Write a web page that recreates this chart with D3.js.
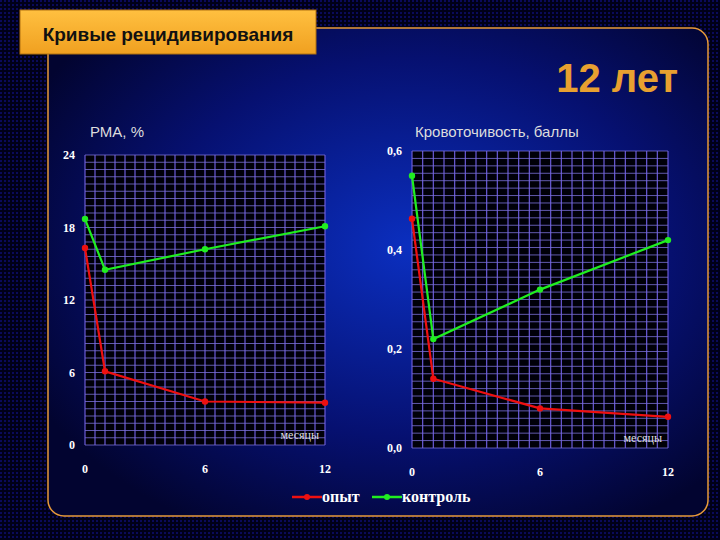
<!DOCTYPE html><html><head><meta charset="utf-8"><script src="https://cdn.jsdelivr.net/npm/d3@7"></script>
<style>body{margin:0;background:#000}</style></head><body><script>
const months=[0,1,6,12];
const rmaOpyt=[16.3,6.1,3.6,3.5];
const rmaKontrol=[18.7,14.5,16.2,18.1];
const bleedOpyt=[0.463,0.14,0.08,0.063];
const bleedKontrol=[0.55,0.22,0.32,0.42];
const rmaTicks=[0,6,12,18,24];
const bleedTicks=[0,0.2,0.4,0.6];
const xTicks=[0,6,12];
const W=720,H=540;
const svg=d3.select("body").append("svg").attr("width",W).attr("height",H);
const defs=svg.append("defs");
const pat=defs.append("pattern").attr("id","bgp").attr("width",4).attr("height",4).attr("patternUnits","userSpaceOnUse");
pat.append("rect").attr("width",4).attr("height",4).attr("fill","#000018");
pat.append("rect").attr("width",2).attr("height",2).attr("fill","#0a0a5a");
svg.append("rect").attr("width",W).attr("height",H).attr("fill","url(#bgp)");
const rg=defs.append("radialGradient").attr("id","pg").attr("cx","55%").attr("cy","45%").attr("r","65%");
rg.append("stop").attr("offset","0").attr("stop-color","#0b2fc0");
rg.append("stop").attr("offset","0.6").attr("stop-color","#061070");
rg.append("stop").attr("offset","1").attr("stop-color","#020430");
svg.append("rect").attr("x",48).attr("y",28).attr("width",660).attr("height",488).attr("rx",16).attr("fill","url(#pg)").attr("stroke","#e89a3a").attr("stroke-width",1.5);
const lg=defs.append("linearGradient").attr("id","tg").attr("x1",0).attr("y1",0).attr("x2",0).attr("y2",1);
lg.append("stop").attr("offset",0).attr("stop-color","#ffc040");
lg.append("stop").attr("offset",1).attr("stop-color","#f0a020");
svg.append("rect").attr("x",20).attr("y",10).attr("width",296).attr("height",44).attr("fill","url(#tg)").attr("stroke","#b07010");
svg.append("text").attr("x",168).attr("y",41).attr("text-anchor","middle").attr("font-family","Liberation Sans, Arial").attr("font-weight","bold").attr("font-size",19).attr("fill","#111").text("Кривые рецидивирования");
svg.append("text").attr("x",678).attr("y",92).attr("text-anchor","end").attr("font-family","Liberation Sans, Arial").attr("font-weight","bold").attr("font-size",40).attr("fill","#e8a030").text("12 лет");

function chart(x0,x1,y0,y1,ymax,ticks,fmt,opyt,kontrol,title,tx){
  const x=d3.scaleLinear().domain([0,12]).range([x0,x1]);
  const y=d3.scaleLinear().domain([0,ymax]).range([y0,y1]);
  const g=svg.append("g");
  g.append("rect").attr("x",x0).attr("y",y1).attr("width",x1-x0).attr("height",y0-y1).attr("fill","#000008");
  g.selectAll(".v").data(d3.range(0,12.01,0.5)).join("line").attr("x1",d=>x(d)).attr("x2",d=>x(d)).attr("y1",y1).attr("y2",y0).attr("stroke","#6a5ad8").attr("stroke-width",1.2);
  g.selectAll(".h").data(d3.range(0,41)).join("line").attr("x1",x0).attr("x2",x1).attr("y1",d=>y(ymax*d/40)).attr("y2",d=>y(ymax*d/40)).attr("stroke","#7a70d8").attr("stroke-width",0.8);
  g.selectAll(".yt").data(ticks).join("text").attr("x",x0-10).attr("y",d=>y(d)+4).attr("text-anchor","end").attr("font-family","Liberation Serif, serif").attr("font-weight","bold").attr("font-size",12).attr("fill","#fff").text(fmt);
  g.selectAll(".xt").data(xTicks).join("text").attr("x",d=>x(d)).attr("y",y0+28).attr("text-anchor","middle").attr("font-family","Liberation Serif, serif").attr("font-weight","bold").attr("font-size",12).attr("fill","#fff").text(d=>d);
  g.append("text").attr("x",x1-6).attr("y",y0-6).attr("text-anchor","end").attr("font-family","Liberation Serif, serif").attr("font-size",12).attr("fill","#ddd").text("месяцы");
  g.append("text").attr("x",tx).attr("y",137).attr("font-family","Liberation Sans, Arial").attr("font-size",15).attr("fill","#ddd").text(title);
  const line=d3.line().x((d,i)=>x(months[i])).y(d=>y(d));
  [[opyt,"#ee1010"],[kontrol,"#20ee20"]].forEach(([s,c])=>{
    g.append("path").attr("d",line(s)).attr("fill","none").attr("stroke",c).attr("stroke-width",2.2);
    g.selectAll(null).data(s).join("circle").attr("cx",(d,i)=>x(months[i])).attr("cy",d=>y(d)).attr("r",3.2).attr("fill",c);
  });
}
chart(85,325,445,155,24,rmaTicks,d=>d,rmaOpyt,rmaKontrol,"РМА, %",90);
chart(412,668,448,151,0.6,bleedTicks,d=>d3.format(".1f")(d).replace(".",","),bleedOpyt,bleedKontrol,"Кровоточивость, баллы",415);
const L=svg.append("g");
[[ "#ee1010",292,"опыт"],["#20ee20",372,"контроль"]].forEach(([c,x,t])=>{
  L.append("line").attr("x1",x).attr("x2",x+30).attr("y1",497).attr("y2",497).attr("stroke",c).attr("stroke-width",2.5);
  L.append("circle").attr("cx",x+15).attr("cy",497).attr("r",3).attr("fill",c);
  L.append("text").attr("x",x+30).attr("y",502).attr("font-family","Liberation Serif, serif").attr("font-weight","bold").attr("font-size",16).attr("fill","#fff").text(t);
});
</script></body></html>
